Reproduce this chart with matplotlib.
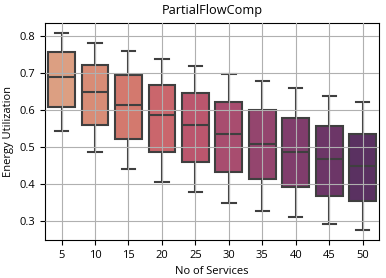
import matplotlib
matplotlib.use("Agg")
import matplotlib.pyplot as plt
import seaborn as sns

# No of Services
services = [5, 10, 15, 20, 25, 30, 35, 40, 45, 50]
# box statistics
whislo = [0.544, 0.485, 0.441, 0.405, 0.379, 0.349, 0.325, 0.309, 0.290, 0.274]
q1 = [0.609, 0.560, 0.521, 0.487, 0.460, 0.433, 0.412, 0.390, 0.368, 0.352]
med = [0.690, 0.649, 0.614, 0.587, 0.560, 0.535, 0.508, 0.487, 0.466, 0.447]
q3 = [0.757, 0.722, 0.695, 0.668, 0.647, 0.622, 0.599, 0.578, 0.557, 0.535]
whishi = [0.809, 0.782, 0.760, 0.739, 0.720, 0.698, 0.678, 0.659, 0.638, 0.620]

plt.rcParams['font.family'] = ['Open Sans', 'DejaVu Sans']

stats = []
for i, s in enumerate(services):
    stats.append(dict(label=str(s), whislo=whislo[i], q1=q1[i], med=med[i],
                      q3=q3[i], whishi=whishi[i], fliers=[]))

colors = [sns.desaturate(c, 0.75) for c in sns.color_palette("flare", len(services))]
edge = "#3f3f3f"

fig = plt.figure(figsize=(3.86, 2.78), dpi=100)
ax = fig.add_axes([0.116, 0.136, 0.867, 0.782])

bp = ax.bxp(stats, positions=range(len(services)), widths=0.8, patch_artist=True,
            boxprops=dict(edgecolor=edge, linewidth=1.5),
            whiskerprops=dict(color=edge, linewidth=1.5),
            capprops=dict(color=edge, linewidth=1.5),
            medianprops=dict(color=edge, linewidth=1.5))
for patch, c in zip(bp["boxes"], colors):
    patch.set_facecolor(c)

ax.set_xlim(-0.5, len(services) - 0.5)
ax.margins(y=0.05)
ax.grid(True, color="#b0b0b0", linewidth=0.8)
ax.set_axisbelow(False)
for gl in ax.get_xgridlines() + ax.get_ygridlines():
    gl.set_zorder(5)

ax.tick_params(labelsize=8)
ax.set_title("PartialFlowComp", fontsize=9.2)
ax.set_xlabel("No of Services", fontsize=8)
ax.set_ylabel("Energy Utilization", fontsize=8)

plt.savefig("out.png", dpi=100)
